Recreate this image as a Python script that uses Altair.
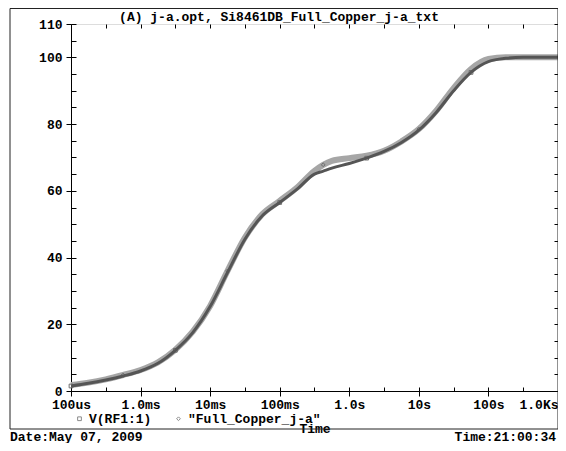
import altair as alt
import pandas as pd

FONT = "Liberation Mono"

# ---- data ----
times = [1e-4, 1.778e-4, 3.162e-4, 5.623e-4, 1e-3, 1.778e-3, 3.162e-3, 5.623e-3,
         1e-2, 1.778e-2, 3.162e-2, 5.623e-2, 0.1, 0.1778, 0.3162, 0.4217, 0.5623,
         1.0, 1.778, 3.162, 5.623, 10.0, 17.78, 31.62, 56.23, 100.0, 177.8, 316.2,
         562.3, 1000.0]
v_rf1 = [1.5, 2.3, 3.3, 4.5, 6.0, 8.3, 12.2, 17.5, 25.3, 35.5, 45.5, 52.5, 56.5,
         60.5, 65.0, 65.9, 66.8, 68.2, 69.8, 71.8, 74.5, 78.2, 83.5, 90.0, 95.5,
         98.7, 99.7, 100.0, 100.0, 100.0]
v_full = [1.8, 2.5, 3.5, 4.8, 6.3, 8.6, 12.4, 17.8, 25.5, 36.0, 46.0, 53.0, 57.0,
          61.0, 66.0, 67.8, 69.0, 69.8, 70.5, 72.0, 74.8, 78.5, 84.0, 90.8, 96.5,
          99.5, 100.0, 100.0, 100.0, 100.0]
series_names = ["V(RF1:1)", '"Full_Copper_j-a"']
marker_idx_rf1 = [0, 6, 12, 18, 24]
marker_idx_full = [3, 9, 15, 21]

x_tick_values = [1e-4, 1e-3, 1e-2, 1e-1, 1.0, 10.0, 100.0, 1000.0]
x_tick_labels = ["100us", "1.0ms", "10ms", "100ms", "1.0s", "10s", "100s", "1.0Ks"]
x_minor_values = [1e-4, 3.162e-4, 1e-3, 3.162e-3, 1e-2, 3.162e-2, 0.1, 0.3162,
                  1.0, 3.162, 10.0, 31.62, 100.0, 316.2, 1000.0]
y_label_values = [0, 20, 40, 60, 80, 100, 110]
y_minor_values = [0, 5, 10, 15, 20, 25, 30, 35, 40, 45, 50, 55, 60, 65, 70, 75,
                  80, 85, 90, 95, 100, 105, 110]

title_text = "(A) j-a.opt, Si8461DB_Full_Copper_j-a_txt"
date_text = "Date:May 07, 2009"
time_text = "Time:21:00:34"

# ---- tables ----
df_rf1 = pd.DataFrame({"t": times, "v": v_rf1, "series": series_names[0]})
df_full = pd.DataFrame({"t": times, "v": v_full, "series": series_names[1]})
df_markers = pd.concat([df_rf1.iloc[marker_idx_rf1], df_full.iloc[marker_idx_full]])
one = pd.DataFrame({"a": [0]})

W, H = 487, 367

xscale = alt.Scale(type="log", domain=[1e-4, 1e3], nice=False)
yscale = alt.Scale(domain=[0, 110], nice=False, zero=False)

label_expr = ("[" + ",".join("'" + l + "'" for l in x_tick_labels) +
              "][round(log(datum.value)/LN10)+4]")

txt = dict(labelFont=FONT, labelFontSize=13, labelFontWeight="bold", labelColor="black",
           tickColor="black", domainColor="black", grid=False)

ax_main_x = alt.Axis(orient="bottom", values=x_tick_values, labelExpr=label_expr,
                     title="Time", tickSize=5, labelPadding=2, labelOverlap=False,
                     labelFlush=False,
                     labelAlign={"condition": {"test": "datum.value >= 999", "value": "right"},
                                 "value": "center"},
                     titleFont=FONT, titleFontSize=13, titleFontWeight="bold",
                     titleColor="black", titleY=41, titleBaseline="alphabetic", **txt)
ax_in_bottom = alt.Axis(orient="bottom", values=x_minor_values, labels=False, domain=False,
                        tickSize=4, offset=-4, title=None, tickColor="black", grid=False)
ax_top = alt.Axis(orient="top", values=x_minor_values, labels=False, domain=False,
                  tickSize=4, offset=-4, title=None, tickColor="black", grid=False)
ay_main = alt.Axis(orient="left", values=y_label_values, tickSize=5, labelPadding=4,
                   labelOverlap=False, title=None, **txt)
ay_in_left = alt.Axis(orient="left", values=y_minor_values, labels=False, domain=False,
                      tickSize=5, offset=-5, title=None, tickColor="black", grid=False)
ay_right = alt.Axis(orient="right", values=y_minor_values, labels=False, domain=False,
                    tickSize=4, offset=-4, title=None, tickColor="black", grid=False)

light = alt.Chart(df_full).mark_line(color="#a6a6a6", strokeWidth=6, interpolate="monotone").encode(
    x=alt.X("t:Q", scale=xscale, axis=ax_in_bottom),
    y=alt.Y("v:Q", scale=yscale, axis=ay_in_left),
)

legend = alt.Legend(orient="none", legendX=2, legendY=388, direction="horizontal", title=None,
                    labelFont=FONT, labelFontSize=13, labelFontWeight="bold", labelColor="black",
                    symbolSize=14, symbolStrokeWidth=1, symbolStrokeColor="#8a8a8a",
                    symbolFillColor="white", labelOffset=3, columnPadding=20, padding=0,
                    labelLimit=0,
                    labelExpr="(indexof(datum.label, 'Full') >= 0 ? '\u00a0\u00a0' : '') + datum.label")

pts = alt.Chart(df_markers).mark_point(filled=False, size=14, color="#6e6e6e", strokeWidth=1,
                                       opacity=1).encode(
    x=alt.X("t:Q", scale=xscale, axis=ax_top),
    y=alt.Y("v:Q", scale=yscale, axis=ay_right),
    shape=alt.Shape("series:N", scale=alt.Scale(domain=series_names, range=["square", "diamond"]),
                    legend=legend),
)

dark = alt.Chart(df_rf1).mark_line(color="#555555", strokeWidth=3, interpolate="monotone").encode(
    x=alt.X("t:Q", scale=xscale, axis=ax_main_x),
    y=alt.Y("v:Q", scale=yscale, axis=ay_main),
)

frame = alt.Chart(one).mark_rect(fill="transparent", stroke="#222222", strokeWidth=1).encode(
    x=alt.value(-61), x2=alt.value(W), y=alt.value(-15.5), y2=alt.value(405)
)

title_t = alt.Chart(one).mark_text(font=FONT, fontSize=13, fontWeight="bold", color="black",
                                   align="center", baseline="alphabetic").encode(
    x=alt.value(208), y=alt.value(-3), text=alt.value(title_text))
date_t = alt.Chart(one).mark_text(font=FONT, fontSize=13, fontWeight="bold", color="black",
                                  align="left", baseline="alphabetic").encode(
    x=alt.value(-61), y=alt.value(416.5), text=alt.value(date_text))
time_t = alt.Chart(one).mark_text(font=FONT, fontSize=13, fontWeight="bold", color="black",
                                  align="right", baseline="alphabetic").encode(
    x=alt.value(W - 2), y=alt.value(416.5), text=alt.value(time_text))

chart = alt.layer(light, pts, dark, frame, title_t, date_t, time_t).resolve_axis(
    x="independent", y="independent"
).properties(
    width=W, height=H,
    autosize=alt.AutoSizeParams(type="none"),
    padding={"left": 63, "top": 16, "right": 0, "bottom": 52},
).configure_view(stroke="black", strokeWidth=1).configure(background="white")

chart.save("out.html", embed_options={"renderer": "svg", "actions": False})
